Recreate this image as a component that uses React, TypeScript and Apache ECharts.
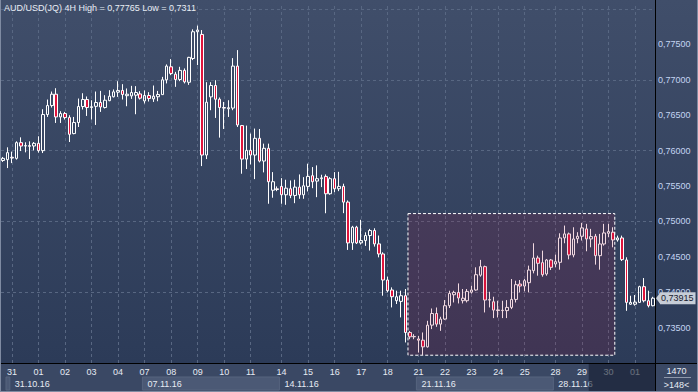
import React, { useEffect, useRef } from 'react';
import * as echarts from 'echarts';

const opens = [0.75860,0.75872,0.75905,0.75890,0.76112,0.76064,0.76070,0.76065,0.76102,0.75999,
0.76509,0.76636,0.76796,0.76475,0.76523,0.76466,0.76240,0.76396,0.76622,0.76721,
0.76608,0.76625,0.76679,0.76608,0.76705,0.76760,0.76825,0.76849,0.76775,0.76772,
0.76782,0.76800,0.76701,0.76778,0.76730,0.76760,0.76790,0.76999,0.77183,0.77079,
0.77004,0.77132,0.76965,0.77300,0.77678,0.77640,0.75937,0.76758,0.76919,0.76725,
0.76608,0.76590,0.76600,0.77193,0.76353,0.75880,0.76003,0.75937,0.76173,0.75852,
0.76032,0.75440,0.75460,0.75494,0.75376,0.75461,0.75366,0.75484,0.75376,0.75494,
0.75645,0.75569,0.75603,0.75635,0.75390,0.75603,0.75461,0.75494,0.75272,0.74696,
0.74918,0.74696,0.74729,0.74800,0.74871,0.74682,0.74540,0.74172,0.74031,0.73880,
0.73870,0.73950,0.73431,0.73370,0.73340,0.73322,0.73228,0.73535,0.73699,0.73549,
0.73620,0.73809,0.73964,0.73997,0.73880,0.73880,0.74000,0.74031,0.74240,0.74361,
0.73889,0.73865,0.73750,0.73740,0.73740,0.73785,0.73898,0.74115,0.74087,0.74134,
0.74304,0.74483,0.74417,0.74257,0.74455,0.74398,0.74422,0.74766,0.74823,0.74526,
0.74755,0.74790,0.74894,0.74752,0.74790,0.74516,0.74681,0.74832,0.74847,0.74738,
0.74766,0.74455,0.73830,0.73830,0.73856,0.74078,0.73879,0.73809];

const closes = [0.75890,0.75971,0.75895,0.76112,0.76064,0.76070,0.76060,0.76102,0.75999,0.76509,
0.76636,0.76796,0.76475,0.76523,0.76466,0.76230,0.76396,0.76622,0.76721,0.76608,
0.76620,0.76679,0.76616,0.76711,0.76768,0.76829,0.76849,0.76792,0.76796,0.76820,
0.76820,0.76740,0.76778,0.76735,0.76768,0.76792,0.76999,0.77193,0.77089,0.77004,
0.77132,0.76970,0.77316,0.77678,0.77702,0.75937,0.76683,0.76919,0.76725,0.76608,
0.76600,0.76605,0.77193,0.76362,0.75880,0.76003,0.75937,0.76173,0.75852,0.76032,
0.75560,0.75560,0.75450,0.75376,0.75469,0.75366,0.75484,0.75376,0.75503,0.75635,
0.75560,0.75603,0.75615,0.75390,0.75603,0.75461,0.75494,0.75272,0.74696,0.74918,
0.74696,0.74729,0.74800,0.74871,0.74682,0.74540,0.74172,0.74021,0.73936,0.73936,
0.73950,0.73431,0.73370,0.73375,0.73322,0.73228,0.73534,0.73699,0.73549,0.73620,
0.73809,0.73983,0.73997,0.73918,0.73915,0.74011,0.74031,0.74247,0.74361,0.73889,
0.73895,0.73747,0.73740,0.73745,0.73785,0.73898,0.74106,0.74087,0.74162,0.74313,
0.74483,0.74408,0.74247,0.74455,0.74351,0.74431,0.74766,0.74823,0.74526,0.74752,
0.74790,0.74908,0.74752,0.74785,0.74516,0.74681,0.74837,0.74856,0.74738,0.74766,
0.74460,0.73856,0.73856,0.73860,0.74078,0.73879,0.73809,0.73915];

const lows = [0.75840,0.75753,0.75823,0.75872,0.75993,0.75975,0.75880,0.76003,0.75971,0.75965,
0.76475,0.76608,0.76390,0.76390,0.76438,0.76121,0.76230,0.76333,0.76580,0.76489,
0.76438,0.76362,0.76546,0.76594,0.76697,0.76750,0.76758,0.76721,0.76626,0.76730,
0.76513,0.76721,0.76665,0.76693,0.76687,0.76697,0.76786,0.76948,0.77065,0.76900,
0.76980,0.76948,0.76928,0.77278,0.77207,0.75781,0.75880,0.76570,0.76461,0.76183,
0.76305,0.76475,0.76570,0.76333,0.75673,0.75739,0.75805,0.75597,0.75833,0.75692,
0.75249,0.75334,0.75427,0.75249,0.75234,0.75328,0.75257,0.75319,0.75319,0.75423,
0.75469,0.75342,0.75484,0.75115,0.75376,0.75413,0.75427,0.75116,0.74597,0.74597,
0.74680,0.74673,0.74654,0.74588,0.74644,0.74492,0.73950,0.73998,0.73785,0.73833,
0.73644,0.73290,0.73336,0.73336,0.73147,0.73114,0.73218,0.73479,0.73511,0.73454,
0.73610,0.73776,0.73855,0.73841,0.73841,0.73855,0.73980,0.74021,0.74219,0.73714,
0.73785,0.73634,0.73643,0.73634,0.73634,0.73761,0.73855,0.73997,0.74011,0.73997,
0.74266,0.74233,0.74219,0.74233,0.74313,0.74351,0.74318,0.74691,0.74464,0.74493,
0.74691,0.74729,0.74578,0.74634,0.74389,0.74318,0.74658,0.74776,0.74634,0.74714,
0.74440,0.73737,0.73823,0.73810,0.73850,0.73856,0.73785,0.73800];

const highs = [0.75910,0.76046,0.75985,0.76131,0.76187,0.76117,0.76131,0.76121,0.76202,0.76584,
0.76721,0.76834,0.76881,0.76556,0.76546,0.76499,0.76475,0.76735,0.76810,0.76764,
0.76711,0.76834,0.76843,0.76782,0.76853,0.76863,0.76980,0.76938,0.76877,0.76914,
0.76910,0.76839,0.76849,0.76825,0.76919,0.76843,0.77041,0.77217,0.77292,0.77112,
0.77183,0.77160,0.77324,0.77712,0.77765,0.77702,0.76966,0.76966,0.76994,0.76750,
0.76687,0.76711,0.77306,0.77419,0.76362,0.76353,0.76240,0.76311,0.76305,0.76098,
0.76098,0.75696,0.75494,0.75611,0.75588,0.75578,0.75588,0.75663,0.75625,0.75815,
0.75767,0.75791,0.75659,0.75663,0.75625,0.75696,0.75700,0.75532,0.75296,0.74937,
0.74937,0.75022,0.74846,0.74894,0.74903,0.74800,0.74564,0.74219,0.74068,0.74021,
0.74021,0.74045,0.73453,0.73407,0.73383,0.73431,0.73596,0.73770,0.73784,0.73653,
0.73889,0.74021,0.74021,0.74124,0.74045,0.74045,0.74092,0.74351,0.74456,0.74375,
0.74006,0.73936,0.73879,0.73879,0.73888,0.74186,0.74162,0.74172,0.74186,0.74375,
0.74691,0.74516,0.74587,0.74469,0.74469,0.74530,0.74832,0.74941,0.74842,0.74917,
0.74847,0.74979,0.74965,0.74894,0.74823,0.74823,0.74965,0.74965,0.74917,0.74799,
0.74799,0.74493,0.73950,0.73960,0.74091,0.74200,0.74021,0.73935];

const dayStarts = [2, 8, 14, 20, 26, 32, 38, 44, 50, 56, 63, 69, 75, 81, 87, 94, 100, 106, 112, 118, 125, 131, 137, 143];
const dayNames = ['31', '01', '02', '03', '04', '07', '08', '09', '10', '11', '14', '15', '16', '17', '18', '21', '22', '23', '24', '25', '28', '29', '30', '01'];
const weekStarts = [2, 32, 63, 94, 125];
const weekNames = ['31.10.16', '07.11.16', '14.11.16', '21.11.16', '28.11.16'];
const yGridValues = [0.735, 0.74, 0.745, 0.75, 0.755, 0.76, 0.765, 0.77, 0.775];
const lastPrice = 0.73915;
const titleText = 'AUD/USD(JQ) 4H High = 0,77765 Low = 0,7311';
const rangeBox = { fromIdx: 91.6, toIdx: 138.4, high: 0.7511, low: 0.7311 };
const pastEndIdx = 133;
const cornerTop = '1470';
const cornerBottom = '>148<';

const W = 698;
const H = 392;
const GL = 1;
const GR = 655;
const GT = 4;
const GB = 363;
const FONT = '"Liberation Sans", Arial, sans-serif';
const GRID_COLOR = '#586782';

export default function App() {
  const ref = useRef<HTMLDivElement>(null);
  useEffect(() => {
    const chart = echarts.init(ref.current!, undefined, { renderer: 'svg', width: W, height: H });
    const categories = opens.map((_, i) => String(i));
    const candles = opens.map((o, i) => [o, closes[i], lows[i], highs[i]]);
    chart.setOption({
      animation: false,
      backgroundColor: 'transparent',
      grid: { left: GL, right: W - GR, top: GT, bottom: H - GB, containLabel: false },
      xAxis: [
        {
          type: 'category',
          data: categories,
          boundaryGap: true,
          axisLine: { show: false },
          axisTick: { show: false },
          splitLine: { show: false },
          axisLabel: {
            interval: (index: number) => dayStarts.includes(index),
            formatter: (v: string) => {
              const k = dayStarts.indexOf(Number(v));
              return k >= 0 ? dayNames[k] : '';
            },
            color: '#e6ebf3',
            fontSize: 9,
            fontFamily: FONT,
            margin: 4,
          },
        },
        { type: 'value', min: -0.5, max: 147.5, show: false },
      ],
      yAxis: {
        type: 'value',
        position: 'right',
        min: 0.73,
        max: 0.7807,
        interval: 0.005,
        scale: true,
        axisLine: { show: false },
        axisTick: { show: false },
        splitLine: { show: false },
        axisLabel: {
          margin: 3,
          color: '#c4d5f2',
          fontSize: 9,
          fontFamily: FONT,
          formatter: (v: number) => (v > 0.7349 && v < 0.7751 ? v.toFixed(5).replace('.', ',') : ''),
        },
      },
      series: [
        {
          type: 'line',
          xAxisIndex: 1,
          yAxisIndex: 0,
          data: [],
          silent: true,
          markLine: {
            z: 1,
            silent: true,
            symbol: ['none', 'none'],
            label: { show: false },
            lineStyle: { color: GRID_COLOR, type: [3, 3], width: 1 },
            data: [
              ...yGridValues.map((v) => ({ yAxis: v })),
              ...dayStarts.map((i) => ({ xAxis: i })),
            ],
          },
        },
        {
          type: 'candlestick',
          xAxisIndex: 0,
          yAxisIndex: 0,
          z: 2,
          data: candles,
          barWidth: 3,
          silent: true,
          itemStyle: {
            color: 'rgba(0,0,0,0)',
            color0: '#e0143c',
            borderColor: '#ffffff',
            borderColor0: '#ffffff',
            borderColorDoji: '#ffffff',
            borderWidth: 1,
          },
        },
        {
          type: 'line',
          xAxisIndex: 1,
          yAxisIndex: 0,
          data: [],
          silent: true,
          markArea: {
            z: 10,
            silent: true,
            itemStyle: {
              color: 'rgba(170,20,60,0.16)',
              borderColor: '#ffffff',
              borderWidth: 1,
              borderType: [3, 2],
            },
            data: [[
              { xAxis: rangeBox.fromIdx, yAxis: rangeBox.high },
              { xAxis: rangeBox.toIdx, yAxis: rangeBox.low },
            ]],
          },
        },
      ],
    });

    const bx = (i: number) => chart.convertToPixel({ xAxisIndex: 1 }, i - 0.5) as number;
    const yp = chart.convertToPixel({ yAxisIndex: 0 }, lastPrice) as number;
    const els: any[] = [];
    // bottom strip background
    els.push({ type: 'rect', z: -10, shape: { x: 0, y: GB, width: W, height: H - GB }, style: { fill: '#3a4864' } });
    // light week boxes
    const lightBoxes: [number, number][] = [
      [6, bx(weekStarts[0])],
      [bx(weekStarts[1]), bx(weekStarts[2])],
      [bx(weekStarts[3]), bx(weekStarts[4])],
    ];
    lightBoxes.forEach(([a, b]) => {
      els.push({ type: 'rect', z: -9, shape: { x: a, y: 377, width: b - a, height: 13 }, style: { fill: '#4b5975', stroke: '#56647f', lineWidth: 1 } });
    });
    weekStarts.forEach((ws, k) => {
      els.push({
        type: 'text', z: 5, x: bx(ws) + 5, y: 384,
        style: { text: weekNames[k], fill: '#e6ebf3', font: `9px ${FONT}`, verticalAlign: 'middle', align: 'left' },
      });
    });
    // dark overlay for the future/unfinished part
    const ox = bx(pastEndIdx);
    els.push({ type: 'rect', z: 50, shape: { x: ox, y: GB + 1, width: GR - ox, height: H - GB - 2 }, style: { fill: 'rgba(20,28,46,0.6)' } });
    // corner box
    els.push({ type: 'text', z: 5, x: (GR + W) / 2, y: 371, style: { text: cornerTop, fill: '#e6ebf3', font: `9px ${FONT}`, align: 'center', verticalAlign: 'middle' } });
    els.push({ type: 'line', z: 5, shape: { x1: 664, y1: 377.5, x2: 691, y2: 377.5 }, style: { stroke: '#8e98ab', lineWidth: 1 } });
    els.push({ type: 'text', z: 5, x: (GR + W) / 2, y: 385, style: { text: cornerBottom, fill: '#e6ebf3', font: `9px ${FONT}`, align: 'center', verticalAlign: 'middle' } });
    // separator lines
    els.push({ type: 'line', z: 40, shape: { x1: 0, y1: GB + 0.5, x2: W, y2: GB + 0.5 }, style: { stroke: '#000000', lineWidth: 1 } });
    els.push({ type: 'line', z: 40, shape: { x1: GR + 0.5, y1: 0, x2: GR + 0.5, y2: H }, style: { stroke: '#000000', lineWidth: 1 } });
    // outer border
    els.push({ type: 'line', z: 40, shape: { x1: 0.5, y1: 0, x2: 0.5, y2: H }, style: { stroke: '#7f8ba2', lineWidth: 1 } });
    els.push({ type: 'line', z: 40, shape: { x1: 0, y1: H - 0.5, x2: W, y2: H - 0.5 }, style: { stroke: '#7f8ba2', lineWidth: 1 } });
    els.push({ type: 'line', z: 40, shape: { x1: W - 0.5, y1: 0, x2: W - 0.5, y2: H }, style: { stroke: '#7f8ba2', lineWidth: 1 } });
    // title
    els.push({ type: 'text', z: 30, x: 4, y: 8, style: { text: titleText, fill: '#e8edf5', font: `9px ${FONT}`, verticalAlign: 'middle' } });
    // last price tag
    els.push({ type: 'polygon', z: 60, shape: { points: [[GR + 1, yp], [GR + 5, yp - 5.5], [GR + 5, yp + 5.5]] }, style: { fill: '#c7cdd7' } });
    els.push({
      type: 'text', z: 61, x: GR + 5, y: yp,
      style: {
        text: lastPrice.toFixed(5).replace('.', ','), fill: '#18202e', font: `9px ${FONT}`, verticalAlign: 'middle',
        backgroundColor: '#c7cdd7', padding: [2, 2, 1, 1],
      },
    });
    chart.setOption({ graphic: { elements: els } });
    return () => chart.dispose();
  }, []);
  return (
    <div
      ref={ref}
      style={{
        position: 'fixed', left: 0, top: 0, width: W, height: H,
        background: `linear-gradient(to bottom, #404e6a 0px, #2c3b58 ${GB}px, #3a4864 ${GB}px, #3a4864 ${H}px)`,
      }}
    />
  );
}
